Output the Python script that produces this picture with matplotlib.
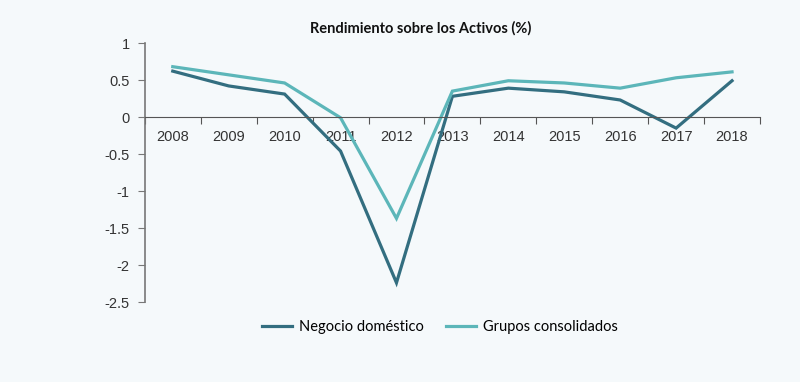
import numpy as np
import matplotlib
matplotlib.use("Agg")
import matplotlib.pyplot as plt
from matplotlib.ticker import FixedLocator, NullFormatter

years = ["2008", "2009", "2010", "2011", "2012", "2013",
         "2014", "2015", "2016", "2017", "2018"]
negocio_domestico = [0.62, 0.42, 0.31, -0.46, -2.24, 0.28, 0.39, 0.34, 0.23, -0.15, 0.49]
grupos_consolidados = [0.68, 0.57, 0.46, -0.01, -1.37, 0.35, 0.49, 0.46, 0.39, 0.53, 0.61]
yticks = [1, 0.5, 0, -0.5, -1, -1.5, -2, -2.5]
ytick_labels = ["1", "0.5", "0", "-0.5", "-1", "-1.5", "-2", "-2.5"]

BG = "#f5f9fb"
DARK = "#336e80"
TEAL = "#5cb6b9"

fig = plt.figure(figsize=(8, 3.82), dpi=100)
fig.patch.set_facecolor(BG)
ax = fig.add_axes([0.181, 0.2094, 0.769, 0.678])
ax.set_facecolor(BG)

x = np.arange(len(years))
ax.plot(x, negocio_domestico, color=DARK, lw=2.3, label="Negocio doméstico",
        solid_joinstyle="miter")
ax.plot(x, grupos_consolidados, color=TEAL, lw=2.3, label="Grupos consolidados",
        solid_joinstyle="miter")

ax.set_xlim(-0.5, len(years) - 0.5)
ax.set_ylim(-2.5, 1)

for side in ("top", "right"):
    ax.spines[side].set_visible(False)
ax.spines["bottom"].set_position(("data", 0))
ax.spines["bottom"].set_color("#555555")
ax.spines["left"].set_color("#777777")
ax.spines["left"].set_linewidth(1.2)

# tick marks between categories, labels at centers
ax.xaxis.set_major_locator(FixedLocator(np.arange(-0.5, len(years), 1.0)))
ax.xaxis.set_major_formatter(NullFormatter())
ax.xaxis.set_minor_locator(FixedLocator(x))
ax.set_xticklabels(years, minor=True)
ax.tick_params(axis="x", which="major", direction="out", length=5, color="#555555")
ax.tick_params(axis="x", which="minor", length=0, pad=9, labelsize=10.5,
               labelcolor="#333333")

ax.set_yticks(yticks)
ax.set_yticklabels(ytick_labels)
ax.tick_params(axis="y", direction="out", length=5, color="#777777",
               labelsize=10.5, labelcolor="#333333", pad=6)
for lab in ax.get_xticklabels(minor=True) + ax.get_yticklabels():
    lab.set_fontfamily("Liberation Sans")

fig.text(421 / 800, 1 - 28 / 382, "Rendimiento sobre los Activos (%)",
         ha="center", va="center", fontsize=10.5, fontweight="bold",
         family="Lato", color="#111111")

fig.legend(loc="center", bbox_to_anchor=(440 / 800, 1 - 327 / 382), ncol=2,
           frameon=False, prop={"family": "Lato", "size": 10.5},
           handlelength=2.05, columnspacing=1.5, handletextpad=0.5)

plt.savefig("out.png", dpi=100, facecolor=BG)
